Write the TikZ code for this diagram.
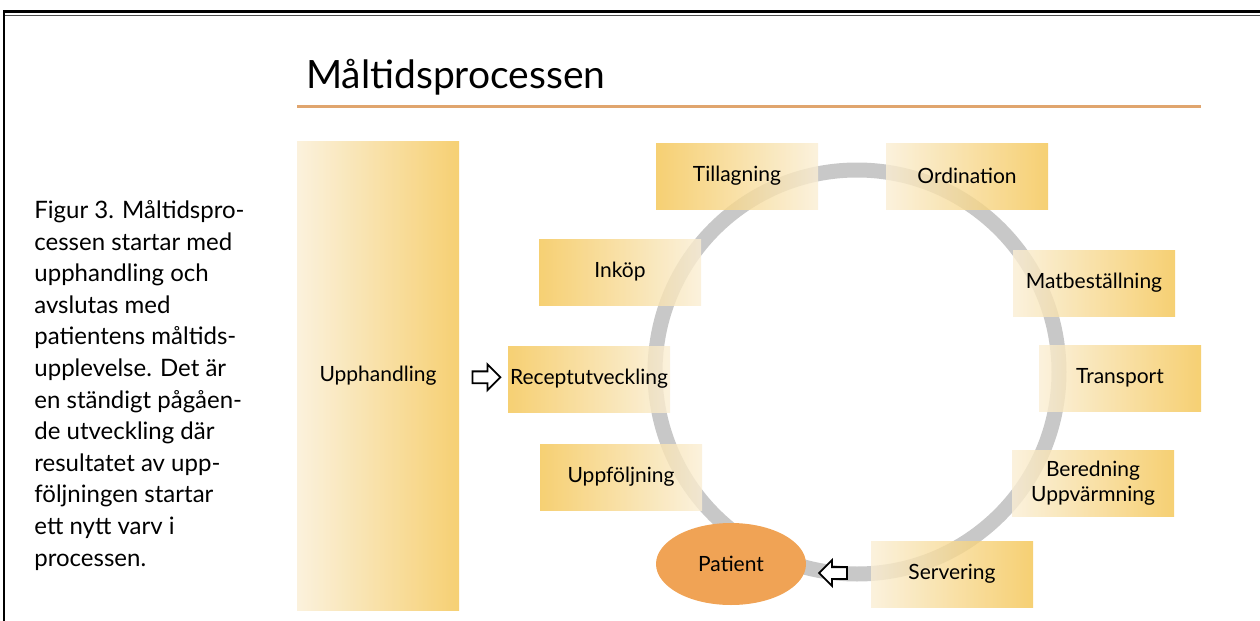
\documentclass[tikz,border=0pt]{standalone}
\usepackage{fontspec}
\setmainfont{Lato}
\usetikzlibrary{calc}
\usetikzlibrary{shapes,arrows}

\definecolor{darkgold}{RGB}{244,196,80}
\definecolor{palegold}{RGB}{250,238,212}
\definecolor{ringgray}{RGB}{200,200,200}
\definecolor{patientorange}{RGB}{240,163,85}
\definecolor{ruleorange}{RGB}{224,165,110}

\tikzset{
	stage/.style={minimum width=81pt, minimum height=33pt, inner sep=0pt,
		fill opacity=0.8, text opacity=1, font=\fontsize{10.5}{12.5}\selectfont},
	goldleft/.style={stage, left color=darkgold, right color=palegold},
	goldright/.style={stage, left color=palegold, right color=darkgold},
	openarrow/.style={single arrow, draw=black, line width=0.9pt, fill=white,
		minimum height=14pt, minimum width=12pt, inner xsep=0pt, inner ysep=2.5pt,
		single arrow head extend=3.5pt}
}

\begin{document}
\begin{tikzpicture} [x=0.5pt, y=-0.5pt]

		\useasboundingbox (0,0) rectangle (1260,621);

		\draw [line width=1.5pt] (3,11.5) -- (1260,11.5);

		\draw [line width=0.5pt, black!70] (3,15) -- (1260,15);

		\draw [line width=1pt] (3.7,10) -- (3.7,621);

		\node[anchor=base west, font=\fontsize{19.5}{22}\selectfont] (title) at (299,88)%
		{Måltidsprocessen};

		\draw [ruleorange, line width=1.25pt] (297,106.5) -- (1201,106.5);

		\node[align=left, anchor=north west, inner sep=0pt, font=\fontsize{12}{15.8}\selectfont] (caption) at (34,200)%
		{Figur 3. Måltidspro-\\ cessen startar med\\ upphandling och\\ avslutas med\\
		patientens måltids-\\ upplevelse. Det är\\ en ständigt pågåen-\\ de utveckling där\\
		resultatet av upp-\\ följningen startar\\ ett nytt varv i\\ processen.};

		\coordinate (hub) at (857,372);

		\draw [ringgray, line width=7.5pt] (hub) circle [radius=202];

		\node[goldright, minimum height=234.5pt] (upph) at (378,375.5) {Upphandling};

		\node[goldleft] (tillag) at (737,176) {Tillagning};

		\node[goldright] (ordin) at (967,176) {Ordination};

		\node[goldleft] (inkop) at (620,272) {Inköp};

		\node[goldright] (matbest) at (1094,283) {Matbeställning};

		\node[goldleft] (recept) at (589,379) {Receptutveckling};

		\node[goldright] (transp) at (1120,378) {Transport};

		\node[goldleft] (uppfol) at (621,477) {Uppföljning};

		\node[goldright, align=center] (bered) at (1093,483) {Beredning\\ Uppvärmning};

		\node[goldright] (serv) at (952,574) {Servering};

		\node[ellipse, fill=patientorange, minimum width=75pt, minimum height=41pt,
		font=\fontsize{10.5}{12.5}\selectfont] (patient) at (731,564) {Patient};

		\node[openarrow] (toRecept) at ($(upph.east)!0.5!(recept.west)$) {};

		\node[openarrow, shape border rotate=180] (toPatient) at (836,573) {};
	\end{tikzpicture}
\end{document}
